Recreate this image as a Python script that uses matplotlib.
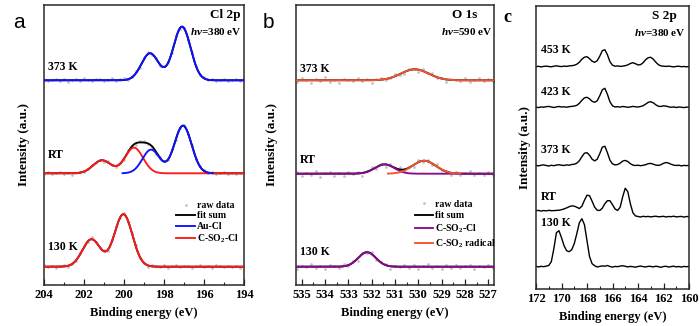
import numpy as np
import matplotlib
matplotlib.use('Agg')
import matplotlib.pyplot as plt
from matplotlib.lines import Line2D
from matplotlib.ticker import MultipleLocator

plt.rcParams['font.family'] = ['Liberation Serif', 'DejaVu Serif']
plt.rcParams['font.weight'] = 'bold'
plt.rcParams['mathtext.fontset'] = 'custom'
plt.rcParams['mathtext.rm'] = 'Liberation Serif:bold'
plt.rcParams['mathtext.bf'] = 'Liberation Serif:bold'
plt.rcParams['mathtext.it'] = 'Liberation Serif:italic'

# ------------------------------------------------------------------ data
# Panel a: Cl 2p (hv = 380 eV) fitted Gaussian doublets: centres (eV), heights (a.u.)
cl_130_cso2cl_pos = [200.03, 201.63]
cl_130_cso2cl_h = [52.4, 27.4]
cl_rt_cso2cl_pos = [199.50, 201.10]
cl_rt_cso2cl_h = [25.6, 13.0]
cl_rt_aucl_pos = [197.05, 198.65]
cl_rt_aucl_h = [47.6, 23.6]
cl_373_aucl_pos = [197.10, 198.70]
cl_373_aucl_h = [53.6, 27.0]
cl_sigma_aucl = 0.43
cl_sigma_cso2cl = 0.45
# raw-data deviations from fit sum, every 0.2 eV from 204 eV downwards
cl_raw_res_130 = [1.2, -0.6, 0.8, -1.3, 0.5, 1.6, -0.9, 0.3, -0.5, 1.9, 0.7, -1.2, 2.1, 0.4, -0.8, 1.5, -1.6, 0.9,
                  2.3, -0.5, 1.1, -1.4, 0.6, 1.8, -1.0, 0.3, -2.0, 1.2, 0.8, -0.6, 1.4, -1.1, 0.5, 1.7, -0.8, 0.2,
                  1.0, -1.3, 0.6, 1.5, -0.4, 0.9, -1.2, 1.3, 0.4, -0.7, 1.1, -0.5, 0.8, -0.9, 0.6]
cl_raw_res_rt = [-0.5, 0.9, -1.2, 0.3, 1.4, -0.7, 0.6, -1.5, 0.2, 1.1, -0.9, 0.5, 1.6, -0.4, 0.8, -1.2, 1.8, 0.3,
                 -0.6, 1.3, -1.0, 2.1, 0.7, -1.4, 0.9, 1.7, -0.8, 0.4, -1.9, 1.2, 0.6, -0.5, 2.0, -1.1, 0.3, 1.5,
                 -0.7, 0.9, -1.3, 0.4, 1.0, -0.6, 1.4, -0.9, 0.2, 1.1, -0.4, 0.7, -1.0, 0.5, 0.9]
cl_raw_res_373 = [0.6, -1.1, 0.4, 1.5, -0.5, 0.8, -1.3, 0.2, 1.2, -0.4, 1.9, 0.5, -0.8, 1.4, 1.0, -0.3, 0.6, 2.0,
                  -0.7, 0.9, 2.2, -1.1, 0.5, 2.4, -1.5, 0.8, 1.9, -1.0, 0.4, -1.8, 1.1, 1.5, -0.5, 2.6, -0.9, 0.6,
                  -1.6, 1.0, 0.4, -0.8, 1.3, -0.3, 0.9, -1.1, 0.5, 1.4, -0.6, 0.3, 1.0, -0.4, 0.8]

# Panel b: O 1s (hv = 590 eV)
o_130_cso2cl_pos = [532.20]
o_130_cso2cl_h = [14.5]
o_130_sigma = 0.38
o_rt_cso2cl_pos = [531.45]
o_rt_cso2cl_h = [9.3]
o_rt_cso2cl_sigma = 0.42
o_rt_radical_pos = [529.75]
o_rt_radical_h = [13.0]
o_rt_radical_sigma = 0.50
o_373_radical_pos = [530.15]
o_373_radical_h = [11.0]
o_373_sigma = 0.60
# raw-data deviations, every 0.2 eV from 535.2 eV downwards
o_raw_res_130 = [-2.0, 1.1, -0.7, 2.3, -1.6, 0.4, -2.4, 1.8, 0.6, -1.3, 2.0, -0.9, 1.4, -2.2, 0.8, -1.0, 2.5, -1.8,
                 0.3, 1.6, -2.6, 0.9, -0.5, 2.1, -1.4, 1.2, -2.0, 0.7, 2.6, -1.1, 0.5, -2.3, 1.7, -0.8, 2.2, -1.5,
                 0.4, 1.3, -2.1, 0.9, -0.6, 1.8, -1.0]
o_raw_res_rt = [1.8, -2.4, 0.7, -1.1, 2.6, -3.0, 0.5, 1.4, -1.9, 0.9, -2.7, 2.1, -0.6, 1.2, -3.2, 0.4, 2.3, -1.5,
                0.8, -2.2, 1.6, -0.3, 2.0, -1.3, 0.6, -2.5, 1.9, -0.8, 1.1, -1.7, 2.4, -0.4, 0.9, -2.0, 1.5, -1.2,
                0.3, 2.2, -1.8, 0.7, -0.9, 1.3, -1.4]
o_raw_res_373 = [-1.5, 2.2, 0.4, -2.6, 1.3, -0.8, 2.9, -1.9, 0.6, -2.3, 1.7, 0.2, -1.2, 2.4, -0.5, 1.1, -2.8, 0.9,
                 1.8, -1.4, 0.3, 2.5, -0.9, -1.7, 1.2, 0.5, -2.1, 1.6, -0.4, 2.0, -1.3, 0.8, -2.4, 1.4, 0.1, -1.0,
                 2.3, -1.6, 0.7, 1.9, -0.6, 1.0, -1.2]

# Panel c: S 2p (hv = 380 eV), intensity every 0.2 eV from 172 eV to 160 eV
s_130 = [0.5, -0.3, 0.4, 0.0, 0.6, 1.2, 5, 18, 34, 36, 29, 21, 16, 15, 17, 23, 33, 44, 48, 42, 26,
         10, 3, 1.0, -0.3, 0.3, 0.8, 0.5, 1.2, 0.2, -0.4, 0.3, 0.0, 0.6, 1.0, 0.4, -0.2, 0.3, 0.0, -0.5,
         0.2, 0.6, 0.1, -0.3, 0.4, 0.3, -0.2, 0.5, 0.0, -0.6, 0.2, 0.4, -0.3, 0.1, 0.5, -0.2, 0.2, -0.4,
         0.3, 0.0, 0.2]
s_rt = [6.0, 6.3, 5.6, 6.2, 5.8, 6.4, 6.0, 6.1, 6.3, 6.5, 7.0, 7.8, 8.8, 10.0, 10.8, 10.6, 9.4, 8.2,
        10.5, 16.5, 21.5, 21, 15.5, 9.5, 6.5, 6.2, 8.5, 13, 16, 16, 12, 7.8, 6.2, 9.5, 20, 28.5, 25, 13, 4, 0.8,
        0.2, -0.3, 0.4, 0.0, 0.3, -0.2, 0.2, 0.5, -0.1, 0.1, 0.4, -0.3, 0.2, 0.0, 0.5, -0.2, 0.1, 0.3,
        -0.4, 0.2, 0.0]
s_373 = [0.3, -0.2, 0.5, 0.8, 0.2, -0.3, 0.4, 0.0, 0.6, 1.0, 0.5, 0.2, 0.8, 0.5, 1.2, 1.5, 2.5, 5, 9,
         12.5, 13, 10.5, 6.5, 4.8, 6.5, 12, 18.5, 19.5, 13, 5.5, 1.8, 0.8, 1.2, 2.5, 4.6, 5.3, 4.2, 2.0,
         0.6, 0.2, 0.5, 0.0, 0.4, 1.0, 2.0, 2.3, 1.5, 0.6, 0.3, 1.0, 2.4, 3.2, 2.6, 1.4, 0.6, 0.2, 0.5,
         -0.2, 0.3, 0.1, 0.2]
s_423 = [0.2, -0.3, 0.4, 0.1, 0.6, 0.9, 0.3, -0.2, 0.4, 0.8, 0.3, 0.5, 0.1, 0.6, 0.9, 1.2, 2.0, 4.0,
         7.0, 9.5, 10, 8.5, 6.0, 5.0, 6.5, 11.5, 17.5, 19, 13, 5.5, 1.5, 0.3, 0.6, 0.2, 0.8, 0.5, 0.0, 0.4,
         0.9, 0.5, 0.3, 0.8, 1.6, 3.2, 5.0, 5.6, 4.5, 2.5, 1.0, 0.8, 1.5, 1.2, 0.5, 0.0, 0.4, -0.2, 0.3,
         0.1, -0.3, 0.2, 0.0]
s_453 = [0.0, 0.4, -0.2, 0.3, 0.6, 0.2, -0.1, 0.5, 0.9, 0.4, 0.1, 0.6, 0.3, 0.8, 1.0, 1.4, 2.5, 4.5,
         7.5, 9.5, 10, 8.0, 5.5, 4.4, 6.0, 10.5, 16, 17, 12, 5.0, 1.5, 0.5, 0.8, 0.3, 0.6, 1.0, 1.8, 3.2,
         4.0, 3.0, 1.8, 2.0, 4.0, 7.0, 9.0, 9.4, 7.5, 4.5, 2.0, 0.8, 0.5, 0.3, 0.6, 0.2, -0.2, 0.3, 0.5,
         0.0, 0.2, -0.1, 0.1]

a_ticks = [204, 202, 200, 198, 196, 194]
b_ticks = [535, 534, 533, 532, 531, 530, 529, 528, 527]
c_ticks = [172, 170, 168, 166, 164, 162, 160]

# ------------------------------------------------------------------ helpers
def gauss(E, pos, h, s):
    out = np.zeros_like(E, dtype=float)
    for p, hh in zip(pos, h):
        out += hh * np.exp(-(E - p) ** 2 / (2 * s ** 2))
    return out

BLUE = '#1010ff'
RED = '#ff1a1a'
PURPLE = '#8a0a8e'
ORANGE = '#f2542d'
GREY = '#c4c4c4'
LW = 1.35
MS = 2.0

W, H = 700, 326
fig = plt.figure(figsize=(W / 100, H / 100), dpi=100)

def px_axes(l, t, r, b):
    return fig.add_axes([l / W, 1 - b / H, (r - l) / W, (b - t) / H])

axa = px_axes(44, 5, 244, 285)
axb = px_axes(296, 5, 494, 285)
axc = px_axes(536, 6, 689, 289)

def style(ax, xlim, ylim, ticks, minor):
    ax.set_xlim(*xlim)
    ax.set_ylim(*ylim)
    ax.set_yticks([])
    ax.set_xticks(ticks)
    ax.xaxis.set_minor_locator(MultipleLocator(minor))
    ax.tick_params(axis='x', which='major', direction='in', length=4, width=0.9,
                   labelsize=9, pad=3, colors='#222222')
    ax.tick_params(axis='x', which='minor', direction='in', length=2.5, width=0.8, colors='#222222')
    for lab in ax.get_xticklabels():
        lab.set_fontweight('bold')
        lab.set_color('black')
    for sp in ax.spines.values():
        sp.set_linewidth(1.1)
        sp.set_color('#2a2a2a')
    ax.set_xlabel('Binding energy (eV)', fontsize=9, fontweight='bold', labelpad=4.5)
    ax.set_ylabel('Intensity (a.u.)', fontsize=9.5, fontweight='bold')

# ------------------------------------------------------------------ panel a
off_a = {'130 K': 18.3, 'RT': 111.7, '373 K': 204.7}
Ef = np.linspace(204, 194, 800)

# 130 K
fit = gauss(Ef, cl_130_cso2cl_pos, cl_130_cso2cl_h, cl_sigma_cso2cl)
Er = 204 - 0.2 * np.arange(len(cl_raw_res_130))
raw = gauss(Er, cl_130_cso2cl_pos, cl_130_cso2cl_h, cl_sigma_cso2cl) + np.array(cl_raw_res_130)
axa.plot(Er, raw + off_a['130 K'], 'o', ms=MS, color=GREY, mec='none', zorder=1)
axa.plot(Ef, fit + off_a['130 K'], color='black', lw=LW, zorder=2)
axa.plot(Ef, fit + off_a['130 K'], color=RED, lw=LW, zorder=3)

# RT
red = gauss(Ef, cl_rt_cso2cl_pos, cl_rt_cso2cl_h, cl_sigma_cso2cl)
blue = gauss(Ef, cl_rt_aucl_pos, cl_rt_aucl_h, cl_sigma_aucl)
Er = 204 - 0.2 * np.arange(len(cl_raw_res_rt))
raw = (gauss(Er, cl_rt_cso2cl_pos, cl_rt_cso2cl_h, cl_sigma_cso2cl)
       + gauss(Er, cl_rt_aucl_pos, cl_rt_aucl_h, cl_sigma_aucl) + np.array(cl_raw_res_rt))
axa.plot(Er, raw + off_a['RT'], 'o', ms=MS, color=GREY, mec='none', zorder=1)
axa.plot(Ef, red + blue + off_a['RT'], color='black', lw=LW, zorder=2)
axa.plot(Ef, red + off_a['RT'], color=RED, lw=LW, zorder=3)
axa.plot(Ef, np.where(blue > 0.1, blue + off_a['RT'], np.nan), color=BLUE, lw=LW, zorder=4)

# 373 K
blue = gauss(Ef, cl_373_aucl_pos, cl_373_aucl_h, cl_sigma_aucl)
Er = 204 - 0.2 * np.arange(len(cl_raw_res_373))
raw = gauss(Er, cl_373_aucl_pos, cl_373_aucl_h, cl_sigma_aucl) + np.array(cl_raw_res_373)
axa.plot(Er, raw + off_a['373 K'], 'o', ms=MS, color=GREY, mec='none', zorder=1)
axa.plot(Ef, blue + off_a['373 K'], color='black', lw=LW, zorder=2)
axa.plot(Ef, blue + off_a['373 K'], color=BLUE, lw=LW, zorder=3)

style(axa, (204, 194), (0, 280), a_ticks, 1)
axa.yaxis.set_label_coords(-0.07, 0.5)
for lab, y in [('373 K', 218), ('RT', 130), ('130 K', 38)]:
    axa.text(203.8, y, lab, fontsize=8.5, fontweight='bold', va='center', ha='left')
axa.text(0.985, 0.965, 'Cl 2p', transform=axa.transAxes, ha='right', va='center', fontsize=9.5, fontweight='bold')
axa.text(0.99, 0.905, r'$h\nu$=380 eV', transform=axa.transAxes, ha='right', va='center', fontsize=8, fontweight='bold')

hd = [Line2D([], [], ls='none', marker='o', ms=MS, color=GREY, mec='none'),
      Line2D([], [], color='black', lw=LW),
      Line2D([], [], color=BLUE, lw=LW),
      Line2D([], [], color=RED, lw=LW)]
axa.legend(hd, ['raw data', 'fit sum', 'Au-Cl', 'C-SO$_2$-Cl'], loc='upper left',
           bbox_to_anchor=(0.66, 0.30), frameon=False, handlelength=2.0,
           handletextpad=0.15, labelspacing=0.15, borderpad=0, borderaxespad=0,
           prop={'size': 7, 'weight': 'bold'})

# ------------------------------------------------------------------ panel b
off_b = {'130 K': 18.3, 'RT': 111.3, '373 K': 204.7}
Ef = np.linspace(535.25, 526.75, 800)

# 130 K
pur = gauss(Ef, o_130_cso2cl_pos, o_130_cso2cl_h, o_130_sigma)
Er = 535.2 - 0.2 * np.arange(len(o_raw_res_130))
raw = gauss(Er, o_130_cso2cl_pos, o_130_cso2cl_h, o_130_sigma) + np.array(o_raw_res_130)
axb.plot(Er, raw + off_b['130 K'], 'o', ms=MS, color=GREY, mec='none', zorder=1)
axb.plot(Ef, pur + off_b['130 K'], color='black', lw=LW, zorder=2)
axb.plot(Ef, pur + off_b['130 K'], color=PURPLE, lw=LW, zorder=3)

# RT
pur = gauss(Ef, o_rt_cso2cl_pos, o_rt_cso2cl_h, o_rt_cso2cl_sigma)
ora = gauss(Ef, o_rt_radical_pos, o_rt_radical_h, o_rt_radical_sigma)
Er = 535.2 - 0.2 * np.arange(len(o_raw_res_rt))
raw = (gauss(Er, o_rt_cso2cl_pos, o_rt_cso2cl_h, o_rt_cso2cl_sigma)
       + gauss(Er, o_rt_radical_pos, o_rt_radical_h, o_rt_radical_sigma) + np.array(o_raw_res_rt))
axb.plot(Er, raw + off_b['RT'], 'o', ms=MS, color=GREY, mec='none', zorder=1)
axb.plot(Ef, pur + ora + off_b['RT'], color='black', lw=LW, zorder=2)
axb.plot(Ef, pur + off_b['RT'], color=PURPLE, lw=LW, zorder=3)
axb.plot(Ef, np.where(ora > 0.1, ora + off_b['RT'], np.nan), color=ORANGE, lw=LW, zorder=4)

# 373 K
ora = gauss(Ef, o_373_radical_pos, o_373_radical_h, o_373_sigma)
Er = 535.2 - 0.2 * np.arange(len(o_raw_res_373))
raw = gauss(Er, o_373_radical_pos, o_373_radical_h, o_373_sigma) + np.array(o_raw_res_373)
axb.plot(Er, raw + off_b['373 K'], 'o', ms=MS, color=GREY, mec='none', zorder=1)
axb.plot(Ef, ora + off_b['373 K'], color='black', lw=LW, zorder=2)
axb.plot(Ef, ora + off_b['373 K'], color=ORANGE, lw=LW, zorder=3)

style(axb, (535.25, 526.75), (0, 280), b_ticks, 0.5)
axb.yaxis.set_label_coords(-0.091, 0.5)
for lab, y in [('373 K', 216), ('RT', 125), ('130 K', 33)]:
    axb.text(535.08, y, lab, fontsize=8.5, fontweight='bold', va='center', ha='left')
axb.text(0.915, 0.965, 'O 1s', transform=axb.transAxes, ha='right', va='center', fontsize=9.5, fontweight='bold')
axb.text(0.99, 0.905, r'$h\nu$=590 eV', transform=axb.transAxes, ha='right', va='center', fontsize=8, fontweight='bold')

hd = [Line2D([], [], ls='none', marker='o', ms=MS, color=GREY, mec='none'),
      Line2D([], [], color='black', lw=LW),
      Line2D([], [], color=PURPLE, lw=LW),
      Line2D([], [], color=ORANGE, lw=LW)]
axb.legend(hd, ['raw data', 'fit sum', 'C-SO$_2$-Cl', 'C-SO$_2$ radical'], loc='upper left',
           bbox_to_anchor=(0.60, 0.305), frameon=False, handlelength=1.9,
           handletextpad=0.15, labelspacing=0.25, borderpad=0, borderaxespad=0,
           prop={'size': 7, 'weight': 'bold'})

# ------------------------------------------------------------------ panel c
off_c = {'130 K': 22.3, 'RT': 72.3, '373 K': 123.3, '423 K': 181.7, '453 K': 222.3}
for name, ser in [('130 K', s_130), ('RT', s_rt), ('373 K', s_373), ('423 K', s_423), ('453 K', s_453)]:
    E = 172 - 0.2 * np.arange(len(ser))
    axc.plot(E, np.array(ser) + off_c[name], color='black', lw=1.0)

style(axc, (172, 160), (0, 283), c_ticks, 1)
axc.yaxis.set_label_coords(-0.033, 0.5)
for lab, y in [('453 K', 239), ('423 K', 197), ('373 K', 139), ('RT', 92), ('130 K', 66)]:
    axc.text(171.6, y, lab, fontsize=8.5, fontweight='bold', va='center', ha='left')
axc.text(0.92, 0.965, 'S 2p', transform=axc.transAxes, ha='right', va='center', fontsize=9.5, fontweight='bold')
axc.text(0.98, 0.905, r'$h\nu$=380 eV', transform=axc.transAxes, ha='right', va='center', fontsize=8, fontweight='bold')

# panel letters
fig.text(19 / W, 1 - 23 / H, 'a', fontsize=15, family='Liberation Sans', fontweight='normal', ha='center', va='center')
fig.text(268 / W, 1 - 23 / H, 'b', fontsize=15, family='Liberation Sans', fontweight='normal', ha='center', va='center')
fig.text(507 / W, 1 - 17 / H, 'c', fontsize=13, fontweight='bold', ha='center', va='center')

fig.savefig('out.png', dpi=100, facecolor='white')
